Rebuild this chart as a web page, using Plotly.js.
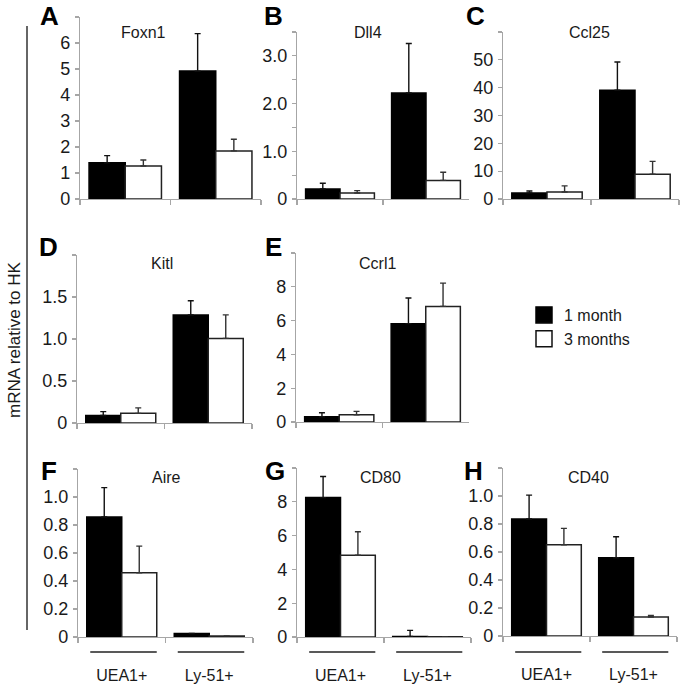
<!DOCTYPE html>
<html><head><meta charset="utf-8">
<script src="https://cdn.plot.ly/plotly-3.0.1.min.js"></script>
<style>html,body{margin:0;padding:0;background:#fff}#chart{width:684px;height:685px}</style>
</head><body><div id="chart"></div>
<script>
const categories = ['UEA1+', 'Ly-51+'];
const genes = ['Foxn1', 'Dll4', 'Ccl25', 'Kitl', 'Ccrl1', 'Aire', 'CD80', 'CD40'];
const panelLetters = ['A', 'B', 'C', 'D', 'E', 'F', 'G', 'H'];
const seriesNames = ['1 month', '3 months'];
const oneMonth       = [[1.39, 4.92], [0.21, 2.22], [2.2, 39.1], [0.09, 1.286], [0.31, 5.82], [0.857, 0.025], [8.25, 0.03], [0.836, 0.559]];
const oneMonthErr    = [[0.28, 1.44], [0.12, 1.04], [0.7, 10.1], [0.045, 0.17], [0.24, 1.52], [0.21, null], [1.25, 0.36], [0.17, 0.15]];
const threeMonths    = [[1.27, 1.85], [0.125, 0.39], [2.5, 8.9], [0.115, 1.007], [0.43, 6.84], [0.459, 0.008], [4.84, 0.01], [0.652, 0.136]];
const threeMonthsErr = [[0.23, 0.45], [0.05, 0.17], [2.2, 4.6], [0.065, 0.28], [0.2, 1.38], [0.19, null], [1.39, null], [0.117, 0.01]];
const yMax = [7, 3.5, 60, 2, 10, 1.2, 10, 1.2];
const yTickVals = [
  [0, 1, 2, 3, 4, 5, 6, 7],
  [0, 0.5, 1, 1.5, 2, 2.5, 3, 3.5],
  [0, 10, 20, 30, 40, 50, 60],
  [0, 0.5, 1, 1.5, 2],
  [0, 2, 4, 6, 8, 10],
  [0, 0.2, 0.4, 0.6, 0.8, 1.0, 1.2],
  [0, 2, 4, 6, 8, 10],
  [0, 0.2, 0.4, 0.6, 0.8, 1.0, 1.2]
];
const yTickText = [
  ['0', '1', '2', '3', '4', '5', '6', ''],
  ['0', '', '1.0', '', '2.0', '', '3.0', ''],
  ['0', '10', '20', '30', '40', '50', ''],
  ['0', '0.5', '1.0', '1.5', ''],
  ['0', '2', '4', '6', '8', ''],
  ['0', '0.2', '0.4', '0.6', '0.8', '1.0', ''],
  ['0', '2', '4', '6', '8', ''],
  ['0', '0.2', '0.4', '0.6', '0.8', '1.0', '']
];
const yAxisTitle = 'mRNA relative to HK';

// ---- layout geometry (pixels) ----
const W = 684, H = 685;
const px = x => x / W, py = y => 1 - y / H;
// [left, right, top, bottom]
const boxes = [
  [80, 261, 17, 199], [297, 469, 32, 199], [503, 679, 32, 199],
  [77, 252, 255, 423], [296, 469, 253, 422],
  [78, 253, 469, 637], [297, 471, 468, 637], [503, 677, 468, 636]
];
const titlePos = [[143, 32], [368, 33], [589, 33], [162, 263], [377, 263], [166, 478], [380, 477], [588, 477]];
const letterPos = [[49, 16], [273, 16], [475, 16], [48, 247], [273, 247], [49, 471], [275, 471], [473, 471]];

const FONT = '"Liberation Sans", Arial, sans-serif';
const axisGray = '#a6a6a6';
const traces = [];
const layout = {
  width: W, height: H,
  margin: {l: 0, r: 0, t: 0, b: 0},
  paper_bgcolor: '#fff', plot_bgcolor: 'rgba(0,0,0,0)',
  font: {family: FONT, size: 16, color: '#1a1a1a'},
  barmode: 'group', bargap: 0.2, bargroupgap: 0,
  showlegend: true,
  legend: {x: px(524), y: py(298), xanchor: 'left', yanchor: 'top', font: {size: 16, color: '#1a1a1a'},
           bgcolor: 'rgba(0,0,0,0)', tracegroupgap: 0, itemwidth: 30},
  annotations: [], shapes: []
};

genes.forEach((g, i) => {
  const n = i === 0 ? '' : String(i + 1);
  const xa = 'x' + n, ya = 'y' + n;
  const b = boxes[i];
  traces.push({
    type: 'bar', x: categories, y: oneMonth[i], name: seriesNames[0], xaxis: xa, yaxis: ya,
    showlegend: false, marker: {color: '#000', line: {color: '#000', width: 1.5}},
    error_y: {type: 'data', symmetric: false, array: oneMonthErr[i], arrayminus: [0, 0], color: '#111', thickness: 1.4, width: 3}
  });
  traces.push({
    type: 'bar', x: categories, y: threeMonths[i], name: seriesNames[1], xaxis: xa, yaxis: ya,
    showlegend: false, marker: {color: '#fff', line: {color: '#222', width: 1.5}},
    error_y: {type: 'data', symmetric: false, array: threeMonthsErr[i], arrayminus: [0, 0], color: '#333', thickness: 1.4, width: 3}
  });
  const bottomRow = i >= 5;
  layout['xaxis' + n] = {
    domain: [px(b[0]), px(b[1])], anchor: ya, type: 'category', range: [-0.5, 1.5], fixedrange: true,
    showline: true, linecolor: axisGray, linewidth: 1.2, ticks: 'outside', tickson: 'boundaries',
    ticklen: 5, tickcolor: axisGray, tickwidth: 1.2, showgrid: false, zeroline: false,
    showticklabels: bottomRow, ticklabelstandoff: 24, tickfont: {size: 16, color: '#1a1a1a'}
  };
  layout['yaxis' + n] = {
    domain: [py(b[3]), py(b[2])], anchor: xa, range: [0, yMax[i]], fixedrange: true,
    showline: true, linecolor: axisGray, linewidth: 1.2, ticks: 'outside', ticklen: 4,
    tickcolor: axisGray, tickwidth: 1.2, showgrid: false, zeroline: false,
    tickmode: 'array', tickvals: yTickVals[i], ticktext: yTickText[i],
    tickfont: {size: 18, color: '#1a1a1a'}, ticklabelstandoff: 1
  };
  layout.annotations.push({
    xref: 'paper', yref: 'paper', x: px(titlePos[i][0]), y: py(titlePos[i][1]),
    xanchor: 'center', yanchor: 'middle', text: g, showarrow: false, font: {size: 16, color: '#1a1a1a'}
  });
  layout.annotations.push({
    xref: 'paper', yref: 'paper', x: px(letterPos[i][0]), y: py(letterPos[i][1]),
    xanchor: 'center', yanchor: 'middle', text: '<b>' + panelLetters[i] + '</b>', showarrow: false,
    font: {size: 26, color: '#000'}
  });
  if (bottomRow) {
    categories.forEach((c, k) => {
      layout.shapes.push({
        type: 'line', xref: xa, yref: 'paper', x0: k - 0.36, x1: k + 0.40,
        y0: py(652), y1: py(652), line: {color: '#222', width: 1.5}
      });
    });
  }
});

// legend proxies
traces.push({type: 'scatter', mode: 'markers', x: [null], y: [null], name: seriesNames[0], showlegend: true,
  marker: {symbol: 'square', size: 16, color: '#000', line: {color: '#000', width: 1.5}}});
traces.push({type: 'scatter', mode: 'markers', x: [null], y: [null], name: seriesNames[1], showlegend: true,
  marker: {symbol: 'square', size: 16, color: '#fff', line: {color: '#111', width: 1.5}}});

// left bracket line and y title
layout.shapes.push({type: 'line', xref: 'paper', yref: 'paper', x0: px(27), x1: px(27), y0: py(26), y1: py(630),
  line: {color: '#333', width: 1.5}});
layout.annotations.push({xref: 'paper', yref: 'paper', x: px(14), y: py(340), text: yAxisTitle, textangle: -90,
  showarrow: false, xanchor: 'center', yanchor: 'middle', font: {size: 17, color: '#1a1a1a'}});

Plotly.newPlot('chart', traces, layout, {staticPlot: true, displayModeBar: false});
</script></body></html>
